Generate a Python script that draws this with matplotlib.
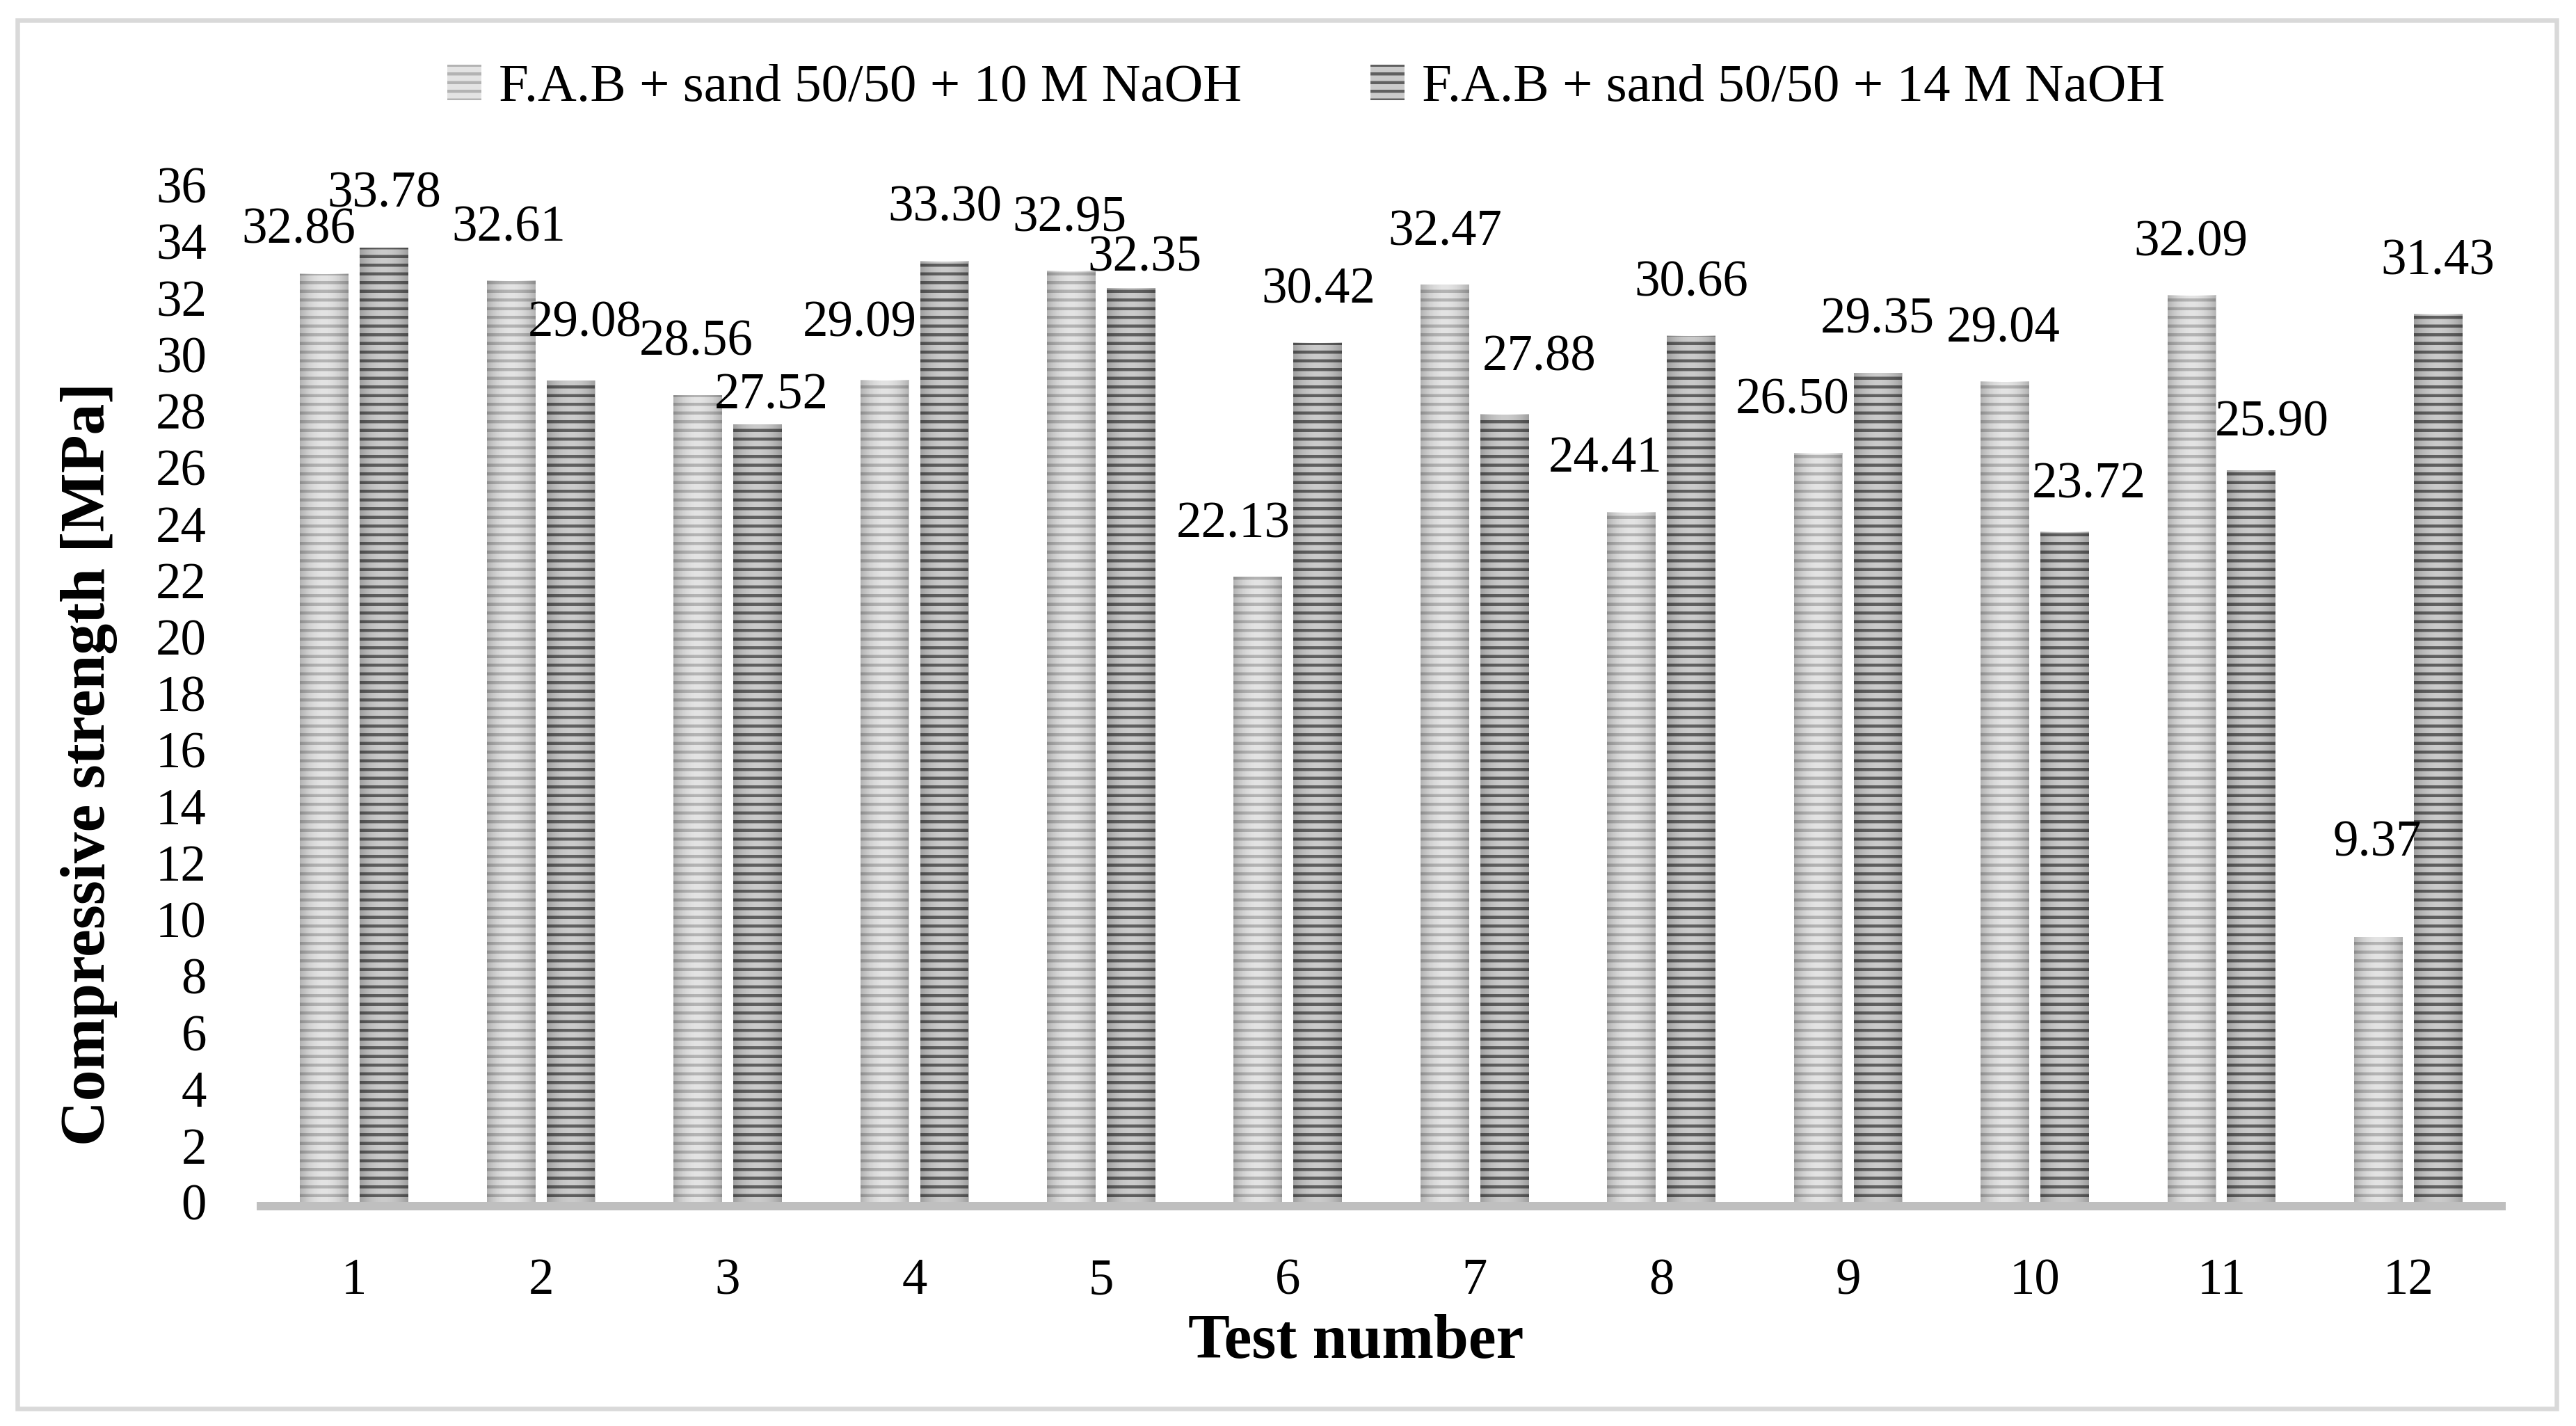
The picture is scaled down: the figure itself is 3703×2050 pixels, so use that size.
import matplotlib
matplotlib.use("Agg")
import numpy as np
import matplotlib.pyplot as plt
from matplotlib.patches import Rectangle

# data
tests = list(range(1, 13))
strength_10M = [32.86, 32.61, 28.56, 29.09, 32.95, 22.13, 32.47, 24.41, 26.50, 29.04, 32.09, 9.37]
strength_14M = [33.78, 29.08, 27.52, 33.30, 32.35, 30.42, 27.88, 30.66, 29.35, 23.72, 25.90, 31.43]
series_names = ["F.A.B + sand 50/50 + 10 M NaOH", "F.A.B + sand 50/50 + 14 M NaOH"]
y_ticks = list(range(0, 37, 2))

# hand placed data labels (pixel nudges: right, up from bar top)
nudge_10M = [(-37, 70), (-3, 83), (-2, 83), (-36, 89), (-3, 83), (-36, 83),
             (0, 83), (-38, 84), (-37, 83), (-2, 83), (-1, 83), (-1, 143)]
nudge_14M = [(0, 84), (20, 89), (20, 49), (1, 84), (20, 50), (1, 83),
             (50, 89), (0, 83), (-1, 83), (35, 75), (29, 75), (0, 83)]

DPI = 75
W, H = 3704, 2050
PX = 72.0 / DPI  # points per pixel

plt.rcParams['font.family'] = ['Liberation Serif', 'DejaVu Serif']
plt.rcParams['hatch.linewidth'] = 4.3

fig = plt.figure(figsize=(W / DPI, H / DPI), dpi=DPI)
ax = fig.add_axes([375 / W, 1 - 1728 / H, (3596 - 375) / W, (1728 - 266) / H])

x = np.array(tests)
bw = 0.26
off = 0.16
b1 = ax.bar(x - off, strength_10M, bw, color='#e3e3e3', edgecolor='#b3b3b3',
            linewidth=0, hatch='-', label=series_names[0])
b2 = ax.bar(x + off, strength_14M, bw, color='#cacaca', edgecolor='#606060',
            linewidth=0, hatch='-', label=series_names[1])

# soft shading towards the bar edges, like the original's fill
shade = np.zeros((1, 64, 4))
shade[0, :, 3] = 0.22 * np.abs(np.linspace(-1, 1, 64)) ** 2
for rect in list(b1) + list(b2):
    ax.imshow(shade, extent=(rect.get_x(), rect.get_x() + rect.get_width(), 0, rect.get_height()),
              aspect='auto', interpolation='bilinear', zorder=1.5)

for bars, vals, nudges in [(b1, strength_10M, nudge_10M), (b2, strength_14M, nudge_14M)]:
    for rect, v, (dx, dy) in zip(bars, vals, nudges):
        ax.annotate(f"{v:.2f}", (rect.get_x() + rect.get_width() / 2, v),
                    xytext=(dx * PX, dy * PX), textcoords='offset points',
                    ha='center', va='center_baseline', fontsize=70, color='black')

ax.set_xlim(0.5, 12.5)
ax.set_ylim(0, 36)
ax.set_yticks(y_ticks)
ax.set_xticks(x)
ax.set_xticklabels([str(t) for t in tests])
ax.tick_params(axis='both', length=0, labelsize=70)
ax.tick_params(axis='y', pad=75)
ax.tick_params(axis='x', pad=72)

for s in ['top', 'right', 'left']:
    ax.spines[s].set_visible(False)
ax.spines['bottom'].set_color('#bfbfbf')
ax.spines['bottom'].set_linewidth(12 * PX)
ax.spines['bottom'].set_position(('outward', 6 * PX))

ax.set_xlabel("Test number", fontsize=86, fontweight='bold')
ax.xaxis.set_label_coords((1949 - 375) / (3596 - 375), (1728 - 1930) / (1728 - 266))
ax.xaxis.label.set_va('center')
ax.set_ylabel("Compressive strength [MPa]", fontsize=86, fontweight='bold')
ax.yaxis.set_label_coords((128 - 375) / (3596 - 375), (1728 - 1098) / (1728 - 266))
ax.yaxis.label.set_va('center')

fig.legend(handles=[b1, b2], loc='center', bbox_to_anchor=(0.507, 1 - 127 / H),
           ncol=2, frameon=False, fontsize=74, handlelength=0.63, handleheight=0.65,
           handletextpad=0.33, columnspacing=2.4)

fig.patches.append(Rectangle((25.5 / W, 1 - 2025 / H), (3675 - 25.5) / W, (2025 - 29) / H,
                             transform=fig.transFigure, fill=False,
                             edgecolor='#d9d9d9', linewidth=6.5 * PX))

fig.savefig("out.png", dpi=DPI, facecolor='white')
